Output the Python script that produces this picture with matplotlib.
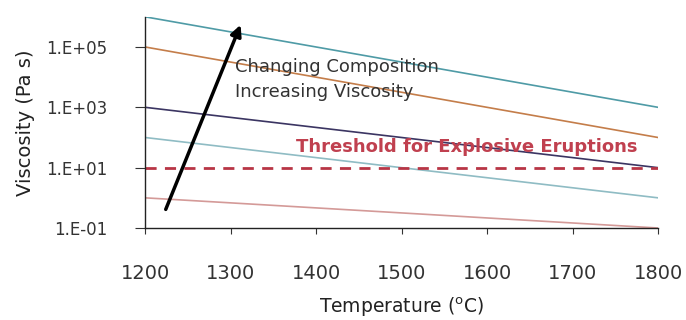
import matplotlib.pyplot as plt
from matplotlib.ticker import FixedLocator, FixedFormatter

# temperatures at the two ends of each line
temps = [1200, 1800]

# viscosity at 1200 and 1800 C for each composition (top to bottom)
visc_1 = [1e6, 1e3]
visc_2 = [1e5, 1e2]
visc_3 = [1e3, 1e1]
visc_4 = [1e2, 1e0]
visc_5 = [1e0, 1e-1]
series = [visc_1, visc_2, visc_3, visc_4, visc_5]
colors = ['#4f9ba6', '#c47d4a', '#3b3562', '#8fbcc4', '#d49a98']

threshold = 10
ytick_vals = [1e-1, 1e1, 1e3, 1e5]
ytick_labels = ['1.E-01', '1.E+01', '1.E+03', '1.E+05']
xtick_vals = [1200, 1300, 1400, 1500, 1600, 1700, 1800]

fig = plt.figure(figsize=(6.86, 3.2), dpi=100)
ax = fig.add_axes([0.2114, 0.2875, 0.7478, 0.66])

for v, c in zip(series, colors):
    ax.plot(temps, v, color=c, lw=1.2)

ax.plot(temps, [threshold, threshold], color='#b83545', lw=2, ls=(0, (4, 3)))

ax.set_yscale('log')
ax.set_ylim(1e-1, 1e6)
ax.set_xlim(1200, 1800)
ax.yaxis.set_major_locator(FixedLocator(ytick_vals))
ax.yaxis.set_major_formatter(FixedFormatter(ytick_labels))
ax.yaxis.set_minor_locator(FixedLocator([]))
ax.set_xticks(xtick_vals)

for s in ['top', 'right']:
    ax.spines[s].set_visible(False)
for s in ['left', 'bottom']:
    ax.spines[s].set_color('#222222')
    ax.spines[s].set_linewidth(1)

ax.tick_params(axis='y', length=7, direction='out', pad=20, labelsize=12, colors='#333333')
ax.tick_params(axis='x', length=4, direction='out', pad=22, labelsize=14, colors='#333333')

ax.set_xlabel('Temperature ($^{\\rm o}$C)', fontsize=13.5, labelpad=9, color='#222222')
ax.set_ylabel('Viscosity (Pa s)', fontsize=14, labelpad=8, color='#222222')

# arrow for changing composition
ax.annotate('', xy=(1313, 6.6e5), xytext=(1223, 0.34),
            arrowprops=dict(arrowstyle='-|>', color='black', lw=2.5,
                            mutation_scale=16))

ax.text(1305, 2.1e4, 'Changing Composition', fontsize=13, color='#333333',
        va='center', ha='left')
ax.text(1305, 3.1e3, 'Increasing Viscosity', fontsize=13, color='#333333',
        va='center', ha='left')
ax.text(1776, 50, 'Threshold for Explosive Eruptions', fontsize=13,
        color='#c0404f', fontweight='bold', va='center', ha='right')

plt.savefig('out.png', dpi=100)
